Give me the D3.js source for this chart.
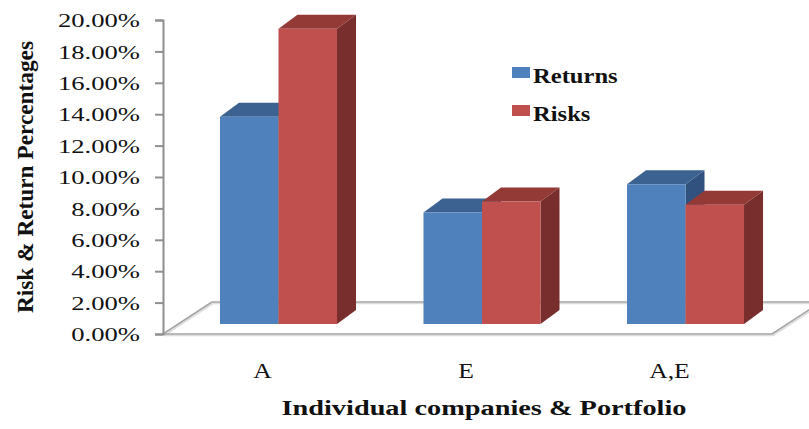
<!DOCTYPE html>
<html>
<head>
<meta charset="utf-8">
<script src="https://cdn.jsdelivr.net/npm/d3@7"></script>
<style>
  body { margin: 0; background: #fff; }
  svg { display: block; font-family: "Liberation Serif", "Times New Roman", serif; }
</style>
</head>
<body>
<div id="chart"></div>
<script>
// values
var categories = ['A', 'E', 'A,E'];
var seriesNames = ['Returns', 'Risks'];
var returns = [0.132, 0.071, 0.089];
var risks = [0.188, 0.078, 0.076];
var yTicks = [0, 0.02, 0.04, 0.06, 0.08, 0.10, 0.12, 0.14, 0.16, 0.18, 0.20];

var W = 809, H = 429;
var axisX = 163;
var depth = {x: 19, y: -14};      // bar depth
var floorDepth = {x: 49, y: -32}; // floor depth
var lift = 10;                    // bars sit a bit behind the front edge
var floorRight = 772;

var colors = {
    Returns: {front: '#4f81bd', top: '#3c6291', side: '#31527e'},
    Risks:   {front: '#c0504d', top: '#933a37', side: '#782e2c'}
};

var svg = d3.select('#chart').append('svg')
    .attr('width', W)
    .attr('height', H);

var y = d3.scaleLinear().domain([0, 0.20]).range([334, 20]);

var x0 = d3.scaleBand()
    .domain(categories)
    .range([axisX, 801])
    .paddingInner(0.425)
    .paddingOuter(0.28);

var x1 = d3.scaleBand()
    .domain(seriesNames)
    .range([0, x0.bandwidth()]);

// stretch text horizontally (the source renders wide glyphs)
var stretch = function(sel, k) {
    sel.each(function() {
        var w = this.getComputedTextLength();
        d3.select(this).attr('textLength', w * k).attr('lengthAdjust', 'spacingAndGlyphs');
    });
};

// floor
var y0 = y(0);
var floor = svg.append('g').attr('class', 'floor');
var floorLines = [
    [[axisX + floorDepth.x, y0 + floorDepth.y], [W + 30, y0 + floorDepth.y]],
    [[axisX, y0], [axisX + floorDepth.x, y0 + floorDepth.y]],
    [[axisX, y0], [floorRight, y0]],
    [[floorRight, y0], [floorRight + floorDepth.x, y0 + floorDepth.y]]
];
floor.selectAll('line.shadow').data(floorLines).enter()
    .append('line')
        .attr('class', 'shadow')
        .attr('x1', function(d) { return d[0][0] + 1 })
        .attr('y1', function(d) { return d[0][1] + 1.5 })
        .attr('x2', function(d) { return d[1][0] + 1 })
        .attr('y2', function(d) { return d[1][1] + 1.5 })
        .attr('stroke', '#dedede')
        .attr('stroke-width', 1.5);
floor.selectAll('line.edge').data(floorLines).enter()
    .append('line')
        .attr('class', 'edge')
        .attr('x1', function(d) { return d[0][0] })
        .attr('y1', function(d) { return d[0][1] })
        .attr('x2', function(d) { return d[1][0] })
        .attr('y2', function(d) { return d[1][1] })
        .attr('stroke', '#a3a3a3')
        .attr('stroke-width', 1.5);

// axis
var yAxis = svg.append('g')
    .attr('transform', 'translate(' + axisX + ',0)')
    .call(d3.axisLeft(y).tickValues(yTicks).tickFormat(d3.format('.2%')).tickSize(8).tickPadding(15));
yAxis.select('.domain').attr('stroke', '#8f8f8f').attr('stroke-width', 2);
yAxis.selectAll('.tick line').attr('stroke', '#8f8f8f').attr('stroke-width', 2);
yAxis.selectAll('.tick text')
    .attr('font-family', '"Liberation Serif", "Times New Roman", serif')
    .attr('font-size', 19)
    .attr('fill', '#111')
    .attr('dy', '0.35em')
    .call(stretch, 1.4);

// bars
var rows = categories.map(function(c, i) {
    return {cat: c, values: [
        {series: 'Returns', value: returns[i]},
        {series: 'Risks', value: risks[i]}
    ]};
});

var base = y0 - lift;
var groups = svg.selectAll('g.group').data(rows).enter()
    .append('g')
        .attr('class', 'group')
        .attr('transform', function(d) { return 'translate(' + x0(d.cat) + ',0)' });

var bars = groups.selectAll('g.bar').data(function(d) { return d.values }).enter()
    .append('g')
        .attr('class', 'bar');

var bw = x1.bandwidth();
bars.append('path')
    .attr('fill', function(d) { return colors[d.series].side })
    .attr('d', function(d) {
        var l = x1(d.series) + bw, t = y(d.value) - lift;
        return 'M' + l + ',' + base + 'L' + (l + depth.x) + ',' + (base + depth.y) +
            'L' + (l + depth.x) + ',' + (t + depth.y) + 'L' + l + ',' + t + 'Z';
    });
bars.append('path')
    .attr('fill', function(d) { return colors[d.series].top })
    .attr('d', function(d) {
        var l = x1(d.series), t = y(d.value) - lift;
        return 'M' + l + ',' + t + 'L' + (l + depth.x) + ',' + (t + depth.y) +
            'L' + (l + bw + depth.x) + ',' + (t + depth.y) + 'L' + (l + bw) + ',' + t + 'Z';
    });
bars.append('rect')
    .attr('fill', function(d) { return colors[d.series].front })
    .attr('x', function(d) { return x1(d.series) })
    .attr('y', function(d) { return y(d.value) - lift })
    .attr('width', bw)
    .attr('height', function(d) { return base - (y(d.value) - lift) });

// category labels
svg.selectAll('text.cat').data(categories).enter()
    .append('text')
        .attr('class', 'cat')
        .attr('x', function(d) { return x0(d) + x0.bandwidth() / 2 - 16 })
        .attr('y', 378)
        .attr('text-anchor', 'middle')
        .attr('font-size', 21)
        .attr('fill', '#111')
        .text(function(d) { return d })
        .call(stretch, 1.22);

// axis titles
svg.append('text')
    .attr('x', 484)
    .attr('y', 415)
    .attr('text-anchor', 'middle')
    .attr('font-size', 20)
    .attr('font-weight', 'bold')
    .attr('fill', '#111')
    .attr('textLength', 405)
    .attr('lengthAdjust', 'spacingAndGlyphs')
    .text('Individual companies & Portfolio');

svg.append('text')
    .attr('transform', 'translate(33,177) rotate(-90)')
    .attr('text-anchor', 'middle')
    .attr('font-size', 23)
    .attr('font-weight', 'bold')
    .attr('fill', '#111')
    .attr('textLength', 272)
    .attr('lengthAdjust', 'spacingAndGlyphs')
    .text('Risk & Return Percentages');

// legend
var legend = svg.selectAll('g.legend').data(seriesNames).enter()
    .append('g')
        .attr('class', 'legend')
        .attr('transform', function(d, i) { return 'translate(512,' + (67 + i * 38) + ')' });
legend.append('rect')
    .attr('width', 18)
    .attr('height', 11)
    .attr('fill', function(d) { return colors[d].front });
legend.append('text')
    .attr('x', 21)
    .attr('y', 16)
    .attr('font-size', 21)
    .attr('font-weight', 'bold')
    .attr('fill', '#111')
    .text(function(d) { return d })
    .call(stretch, 1.17);
</script>
</body>
</html>
